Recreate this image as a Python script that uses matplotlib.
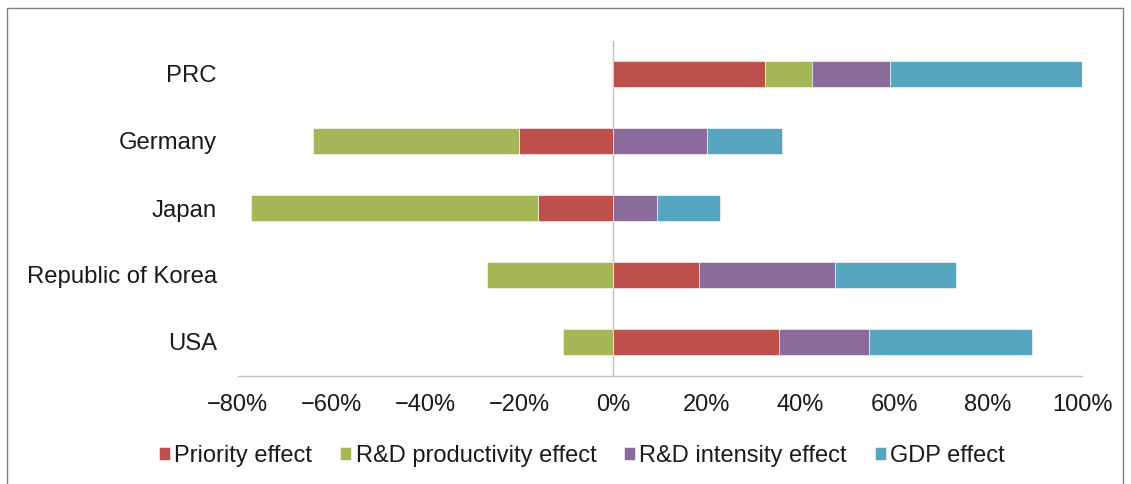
import matplotlib
matplotlib.use("Agg")
import matplotlib.pyplot as plt
import numpy as np
from matplotlib.patches import Rectangle
from matplotlib.ticker import FuncFormatter

plt.rcParams['font.family'] = ['Liberation Sans', 'DejaVu Sans']

countries = ["PRC", "Germany", "Japan", "Republic of Korea", "USA"]
series_names = ["Priority effect", "R&D productivity effect", "R&D intensity effect", "GDP effect"]
priority = [32.4, -20.1, -15.9, 18.4, 35.5]
rd_productivity = [10.0, -43.8, -61.2, -26.8, -10.6]
rd_intensity = [16.6, 20.1, 9.5, 28.9, 19.0]
gdp = [41.1, 16.0, 13.4, 25.9, 34.9]
x_ticks = [-80, -60, -40, -20, 0, 20, 40, 60, 80, 100]

colors = ["#BE504C", "#A5B757", "#8B6A9C", "#56A6C2"]
series = [priority, rd_productivity, rd_intensity, gdp]

fig = plt.figure(figsize=(11.31, 4.84), dpi=100)
ax = fig.add_axes([237.6 / 1131, (484 - 375.5) / 484, (1082 - 237.6) / 1131, 335 / 484])

y = np.arange(len(countries))[::-1]
pos = np.zeros(len(countries))
neg = np.zeros(len(countries))
for vals, col, name in zip(series, colors, series_names):
    v = np.array(vals, dtype=float)
    left = np.where(v >= 0, pos, neg)
    ax.barh(y, v, left=left, height=0.4, color=col, label=name,
            edgecolor="#FFFFFF", linewidth=0.4)
    pos = pos + np.where(v >= 0, v, 0)
    neg = neg + np.where(v < 0, v, 0)

ax.set_xlim(-80, 100)
ax.set_ylim(-0.5, len(countries) - 0.5)
ax.set_yticks(y)
ax.set_yticklabels(countries, fontsize=17.2, color="#1a1a1a")
ax.set_xticks(x_ticks)
ax.xaxis.set_major_formatter(FuncFormatter(lambda v, p: ("\u2212" if v < 0 else "") + f"{abs(int(v))}%"))
ax.tick_params(axis='x', length=0, pad=13, labelsize=17, labelcolor="#1a1a1a")
ax.tick_params(axis='y', length=0, pad=15)
for s in ["top", "right", "left"]:
    ax.spines[s].set_visible(False)
ax.spines["bottom"].set_color("#BFBFBF")
ax.spines["bottom"].set_linewidth(1.0)
ax.axvline(0, color="#BFBFBF", linewidth=1.0, zorder=0)

fig.legend(loc="center", bbox_to_anchor=(582 / 1131, 1 - 456 / 484), ncol=4, frameon=False,
           fontsize=17, handlelength=0.45, handleheight=0.45, handletextpad=0.2,
           columnspacing=1.18, labelcolor="#1a1a1a")

fig.patches.append(Rectangle((7 / 1131, -0.1), (1123 - 7) / 1131, 1.1 - 8 / 484,
                             transform=fig.transFigure, fill=False,
                             edgecolor="#808080", linewidth=1.0))

fig.savefig("out.png", dpi=100, facecolor="white")
